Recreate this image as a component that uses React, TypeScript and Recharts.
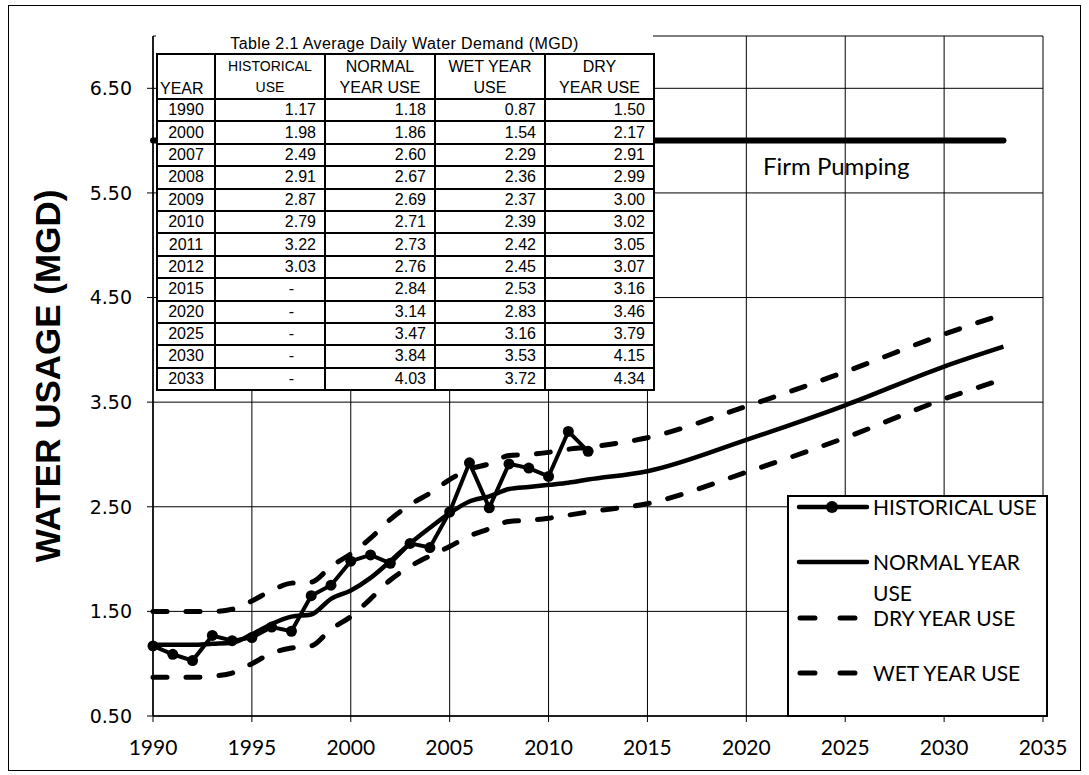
import { LineChart, Line, XAxis, YAxis, CartesianGrid } from "recharts";

// chart series (annual history + projection years)
const years = [
  1990, 1991, 1992, 1993, 1994, 1995, 1996, 1997, 1998, 1999, 2000, 2001,
  2002, 2003, 2004, 2005, 2006, 2007, 2008, 2009, 2010, 2011, 2012, 2015,
  2020, 2025, 2030, 2033,
];
const historicalUse = [
  1.17, 1.09, 1.03, 1.27, 1.22, 1.25, 1.35, 1.31, 1.65, 1.75, 1.98, 2.04,
  1.96, 2.15, 2.11, 2.45, 2.92, 2.49, 2.91, 2.87, 2.79, 3.22, 3.03,
];
const normalYearUse = [
  1.18, 1.18, 1.18, 1.19, 1.2, 1.28, 1.38, 1.45, 1.47, 1.62, 1.7, 1.82,
  1.98, 2.15, 2.3, 2.44, 2.55, 2.6, 2.67, 2.69, 2.71, 2.73, 2.76, 2.84,
  3.14, 3.47, 3.84, 4.03,
];
const dryYearUse = [
  1.5, 1.5, 1.5, 1.5, 1.52, 1.6, 1.7, 1.77, 1.78, 1.93, 2.05, 2.2,
  2.38, 2.52, 2.63, 2.76, 2.86, 2.91, 2.99, 3.0, 3.02, 3.05, 3.07, 3.16,
  3.46, 3.79, 4.15, 4.34,
];
const wetYearUse = [
  0.87, 0.87, 0.87, 0.88, 0.91, 1.0, 1.1, 1.15, 1.17, 1.33, 1.45, 1.62,
  1.8, 1.93, 2.03, 2.12, 2.22, 2.29, 2.36, 2.37, 2.39, 2.42, 2.45, 2.53,
  2.83, 3.16, 3.53, 3.72,
];
const firmPumping = 6.0;

const xTicks = [1990, 1995, 2000, 2005, 2010, 2015, 2020, 2025, 2030, 2035];
const yTicks = [0.5, 1.5, 2.5, 3.5, 4.5, 5.5, 6.5];

// Table 2.1
const tableTitle = "Table 2.1 Average Daily Water Demand (MGD)";
const tableYears = [1990, 2000, 2007, 2008, 2009, 2010, 2011, 2012, 2015, 2020, 2025, 2030, 2033];
const tableHistorical = ["1.17", "1.98", "2.49", "2.91", "2.87", "2.79", "3.22", "3.03", "-", "-", "-", "-", "-"];
const tableNormal = ["1.18", "1.86", "2.60", "2.67", "2.69", "2.71", "2.73", "2.76", "2.84", "3.14", "3.47", "3.84", "4.03"];
const tableWet = ["0.87", "1.54", "2.29", "2.36", "2.37", "2.39", "2.42", "2.45", "2.53", "2.83", "3.16", "3.53", "3.72"];
const tableDry = ["1.50", "2.17", "2.91", "2.99", "3.00", "3.02", "3.05", "3.07", "3.16", "3.46", "3.79", "4.15", "4.34"];

const data = years.map((year, i) => ({
  year,
  historical: historicalUse[i],
  normal: normalYearUse[i],
  dry: dryYearUse[i],
  wet: wetYearUse[i],
  firm: firmPumping,
}));

const ARIAL = '"Liberation Sans", Arial, sans-serif';
const CALIBRI = 'Lato, "Open Sans", sans-serif';

const cell: React.CSSProperties = {
  border: "2px solid #000",
  padding: 0,
  textAlign: "right",
  paddingRight: 8,
  lineHeight: "18px",
};

function DemandTable() {
  return (
    <div style={{ position: "absolute", left: 156, top: 34, width: 497 }}>
      <div
        style={{
          fontFamily: ARIAL,
          fontSize: 16,
          textAlign: "center",
          height: 19,
          lineHeight: "19px",
          background: "#fff",
          letterSpacing: 0.4,
        }}
      >
        {tableTitle}
      </div>
      <table
        style={{
          borderCollapse: "collapse",
          tableLayout: "fixed",
          width: 497,
          background: "#fff",
          fontFamily: ARIAL,
          fontSize: 16,
          color: "#000",
        }}
      >
        <colgroup>
          <col style={{ width: 58 }} />
          <col style={{ width: 110 }} />
          <col style={{ width: 110 }} />
          <col style={{ width: 110 }} />
          <col style={{ width: 109 }} />
        </colgroup>
        <tbody>
          <tr style={{ height: 45 }}>
            <td style={{ ...cell, textAlign: "left", paddingRight: 0, paddingLeft: 2, verticalAlign: "bottom" }}>YEAR</td>
            <td style={{ ...cell, textAlign: "center", paddingRight: 0, fontSize: 14, lineHeight: "21px" }}>
              HISTORICAL
              <br />
              USE
            </td>
            <td style={{ ...cell, textAlign: "center", paddingRight: 0, lineHeight: "21px" }}>
              NORMAL
              <br />
              YEAR USE
            </td>
            <td style={{ ...cell, textAlign: "center", paddingRight: 0, lineHeight: "21px" }}>
              WET YEAR
              <br />
              USE
            </td>
            <td style={{ ...cell, textAlign: "center", paddingRight: 0, lineHeight: "21px" }}>
              DRY
              <br />
              YEAR USE
            </td>
          </tr>
          {tableYears.map((y, i) => (
            <tr key={y} style={{ height: 22.4 }}>
              <td style={{ ...cell, textAlign: "center", paddingRight: 0 }}>{y}</td>
              <td style={{ ...cell, paddingRight: tableHistorical[i] === "-" ? 30 : 8 }}>{tableHistorical[i]}</td>
              <td style={cell}>{tableNormal[i]}</td>
              <td style={cell}>{tableWet[i]}</td>
              <td style={cell}>{tableDry[i]}</td>
            </tr>
          ))}
        </tbody>
      </table>
    </div>
  );
}

const legendItems = [
  { lines: ["HISTORICAL USE"], kind: "dot", y: 12 },
  { lines: ["NORMAL YEAR", "USE"], kind: "solid", y: 67 },
  { lines: ["DRY YEAR USE"], kind: "dash", y: 123 },
  { lines: ["WET YEAR USE"], kind: "dash", y: 178 },
];

function LegendBox() {
  return (
    <div
      style={{
        position: "absolute",
        left: 787,
        top: 495,
        width: 261,
        height: 222,
        background: "#fff",
        border: "2px solid #000",
        boxSizing: "border-box",
      }}
    >
      <svg width={261} height={222} style={{ position: "absolute", left: -2, top: -2 }}>
        {legendItems.map((it) => (
          <g key={it.lines[0]}>
            {it.kind === "dash" ? (
              <line x1={13} x2={72} y1={it.y} y2={it.y} stroke="#000" strokeWidth={5} strokeDasharray="15 25" strokeLinecap="round" />
            ) : (
              <line x1={12} x2={80} y1={it.y} y2={it.y} stroke="#000" strokeWidth={4.5} strokeLinecap="round" />
            )}
            {it.kind === "dot" && <circle cx={45} cy={it.y} r={6} fill="#000" />}
            {it.lines.map((t, j) => (
              <text key={t} x={86} y={it.y + 8 + j * 31} fontFamily={CALIBRI} fontSize={21} fill="#000">
                {t}
              </text>
            ))}
          </g>
        ))}
      </svg>
    </div>
  );
}

export default function App() {
  return (
    <div style={{ position: "absolute", left: 0, top: 0, width: 1089, height: 775, background: "#fff" }}>
      <div
        style={{
          position: "absolute",
          left: 8,
          top: 5,
          width: 1073,
          height: 766,
          border: "1px solid #000",
          boxSizing: "border-box",
        }}
      />
      <div style={{ position: "absolute", left: 0, top: 0 }}>
        <LineChart width={1089} height={775} data={data} margin={{ top: 36, right: 46, bottom: 29, left: 0 }}>
          <CartesianGrid stroke="#000" strokeWidth={1} />
          <XAxis
            dataKey="year"
            type="number"
            domain={[1990, 2035]}
            ticks={xTicks}
            height={30}
            tickSize={6}
            tickMargin={18}
            axisLine={{ stroke: "#000", strokeWidth: 1.5 }}
            tickLine={{ stroke: "#000" }}
            tick={{ fontFamily: CALIBRI, fontSize: 21, fill: "#000" }}
            interval={0}
          />
          <YAxis
            type="number"
            domain={[0.5, 7]}
            ticks={yTicks}
            width={153}
            tickSize={6}
            tickMargin={15}
            axisLine={{ stroke: "#000", strokeWidth: 1.5 }}
            tickLine={{ stroke: "#000" }}
            tick={{ fontFamily: '"DejaVu Sans", Verdana, sans-serif', fontSize: 19, fill: "#000" }}
            tickFormatter={(v: number) => v.toFixed(2)}
            interval={0}
          />
          <Line dataKey="firm" type="linear" stroke="#000" strokeWidth={6} strokeLinecap="round" dot={false} isAnimationActive={false} />
          <Line dataKey="dry" type="monotone" stroke="#000" strokeWidth={5} strokeDasharray="14 19" strokeLinecap="round" dot={false} isAnimationActive={false} />
          <Line dataKey="wet" type="monotone" stroke="#000" strokeWidth={5} strokeDasharray="14 19" strokeLinecap="round" dot={false} isAnimationActive={false} />
          <Line dataKey="normal" type="monotone" stroke="#000" strokeWidth={4.5} dot={false} isAnimationActive={false} />
          <Line
            dataKey="historical"
            type="linear"
            stroke="#000"
            strokeWidth={4}
            dot={{ r: 5.5, fill: "#000", stroke: "#000", strokeWidth: 0 }}
            connectNulls={false}
            isAnimationActive={false}
          />
        </LineChart>
      </div>
      <svg width={1089} height={775} style={{ position: "absolute", left: 0, top: 0, pointerEvents: "none" }}>
        <text
          x={47}
          y={376}
          transform="rotate(-90 47 376)"
          textAnchor="middle"
          dominantBaseline="central"
          fontFamily={ARIAL}
          fontWeight="bold"
          fontSize={35}
          fill="#000"
        >
          WATER USAGE (MGD)
        </text>
        <text x={763} y={175} fontFamily={CALIBRI} fontSize={24} fill="#000">
          Firm Pumping
        </text>
      </svg>
      <DemandTable />
      <LegendBox />
    </div>
  );
}
